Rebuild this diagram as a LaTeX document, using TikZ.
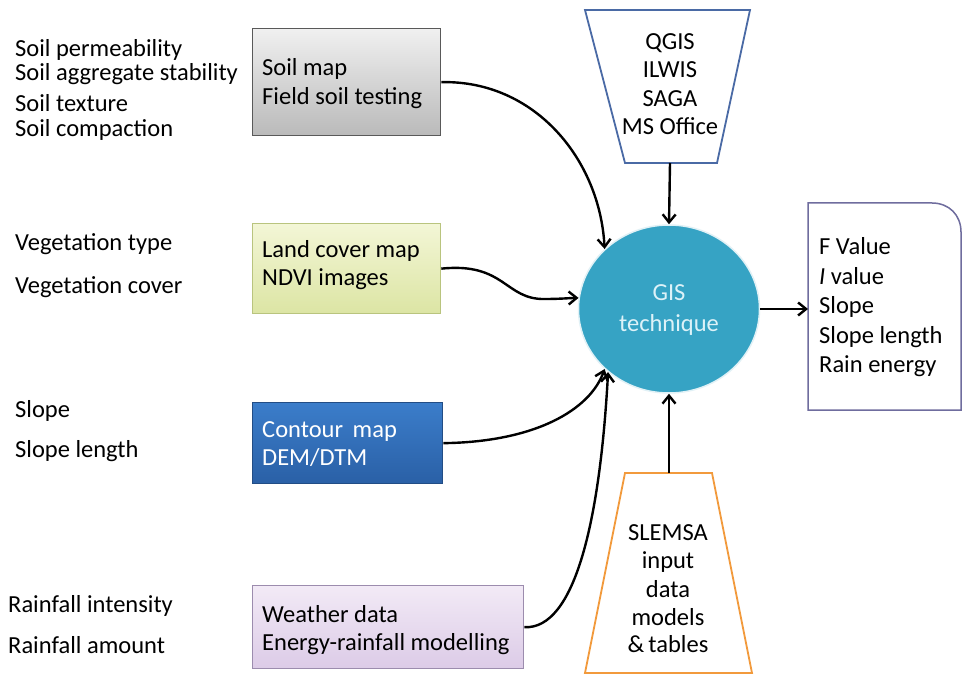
\documentclass[tikz,border=0pt]{standalone}
\usepackage{fontspec}
\setmainfont{Carlito}
\usetikzlibrary{arrows.meta,shapes.geometric}
\definecolor{circfill}{HTML}{36A3C4}
\definecolor{circtext}{HTML}{DDF2F8}
\definecolor{qborder}{HTML}{4A6AA5}
\definecolor{sborder}{HTML}{F29A3C}
\definecolor{oborder}{HTML}{6F6D9E}
\definecolor{contourA}{HTML}{3B7DCA}
\definecolor{contourB}{HTML}{2A60A6}
\definecolor{landA}{HTML}{F3F6D6}
\definecolor{landB}{HTML}{DCE5A4}
\definecolor{landD}{HTML}{B9C47E}
\definecolor{weatA}{HTML}{F2EAF6}
\definecolor{weatB}{HTML}{DCCBE7}
\definecolor{weatD}{HTML}{9C8CAE}
\tikzset{
  txt/.style={anchor=base west, inner sep=0pt, font=\fontsize{24.5}{28}\selectfont},
  ctxt/.style={anchor=base, inner sep=0pt, font=\fontsize{24.5}{28}\selectfont},
  boxbase/.style={draw, line width=1.3pt, anchor=north west, inner sep=0pt},
  conn/.style={line width=2.4pt, -{Straight Barb[length=8pt,width=13pt,line width=2.4pt]}},
}
\begin{document}
\begin{tikzpicture}[x=1pt,y=-1pt]
\useasboundingbox (0,0) rectangle (964,676);
\fill[white] (0,0) rectangle (964,676);

% left texts
\node[txt] (t1) at (15,57) {Soil permeability};
\node[txt] (t2) at (15,81) {Soil aggregate stability};
\node[txt] (t3) at (15,112) {Soil texture};
\node[txt] (t4) at (15,137) {Soil compaction};
\node[txt] (t5) at (15,251) {Vegetation type};
\node[txt] (t6) at (15,294) {Vegetation cover};
\node[txt] (t7) at (15,417) {Slope};
\node[txt] (t8) at (15,457) {Slope length};
\node[txt] (t9) at (8,612) {Rainfall intensity};
\node[txt] (t10) at (8,653) {Rainfall amount};

% boxes
\node[boxbase, draw=black!65, top color=black!6, bottom color=black!27,
  minimum width=188pt, minimum height=107pt] (soil) at (252,28) {};
\node[txt] (soilA) at (262,76) {Soil map};
\node[txt] (soilB) at (262,105) {Field soil testing};

\node[boxbase, draw=landD, top color=landA, bottom color=landB,
  minimum width=188pt, minimum height=90pt] (land) at (252,223) {};
\node[txt] (landA) at (262,258) {Land cover map};
\node[txt] (landB) at (262,286) {NDVI images};

\node[boxbase, draw=contourB!80!black, top color=contourA, bottom color=contourB,
  minimum width=190pt, minimum height=81pt] (cont) at (252,402) {};
\node[txt, text=white] (contA) at (262,437) {Contour\, map};
\node[txt, text=white] (contB) at (262,465) {DEM/DTM};

\node[boxbase, draw=weatD, top color=weatA, bottom color=weatB,
  minimum width=271pt, minimum height=83pt] (weat) at (252,585) {};
\node[txt] (weatA) at (262,622) {Weather data};
\node[txt] (weatB) at (262,650) {Energy-rainfall modelling};

% top trapezoid
\draw[qborder, line width=1.8pt, fill=white] (585,10) -- (750,10) -- (717,163) -- (625,163) -- cycle;
\coordinate (qbot) at (670,163);
\node[ctxt] (q1) at (670,50) {QGIS};
\node[ctxt] (q2) at (670,78) {ILWIS};
\node[ctxt] (q3) at (670,107) {SAGA};
\node[ctxt] (q4) at (670,135) {MS Office};

% bottom trapezoid
\draw[sborder, line width=1.8pt, fill=white] (625,473) -- (712,473) -- (752,673) -- (585,673) -- cycle;
\coordinate (stop) at (669,473);
\node[ctxt] (s1) at (668,540) {SLEMSA};
\node[ctxt] (s2) at (668,568) {input};
\node[ctxt] (s3) at (668,597) {data};
\node[ctxt] (s4) at (668,625) {models};
\node[ctxt] (s5) at (668,652) {\&\,tables};

% central ellipse
\node[ellipse, fill=circfill, draw=white!85!circfill, line width=1.5pt,
  minimum width=181pt, minimum height=168pt, inner sep=0pt] (gis) at (669,309) {};
\node[ctxt, text=circtext] (g1) at (669,301) {GIS};
\node[ctxt, text=circtext] (g2) at (669,331) {technique};

% output box
\draw[oborder, line width=1.5pt, fill=white] (808,410) -- (808,203) -- (932,203)
  .. controls (949,203) and (961,215) .. (961,232) -- (961,410) -- cycle;
\coordinate (outL) at (808,309);
\node[txt] (o1) at (819,255) {F Value};
\node[txt] (o2) at (819,285) {\textit{I} value};
\node[txt] (o3) at (819,314) {Slope};
\node[txt] (o4) at (819,344) {Slope length};
\node[txt] (o5) at (819,373) {Rain energy};

% connectors
\draw[conn] (soil.east) .. controls (535,80) and (600,160) .. (gis.137);
\draw[conn] (land.east) .. controls (505,262) and (505,300) .. (545,299)
  .. controls (560,299) and (570,298) .. (gis.173);
\draw[conn] (cont.east) .. controls (535,442) and (590,410) .. (gis.223);
\draw[conn] (weat.east) .. controls (575,630) and (600,520) .. (gis.226);
\draw[conn] (qbot) -- (gis.north);
\draw[conn] (stop) -- (gis.south);
\draw[conn] (gis.east) -- (outL);
\end{tikzpicture}
\end{document}
